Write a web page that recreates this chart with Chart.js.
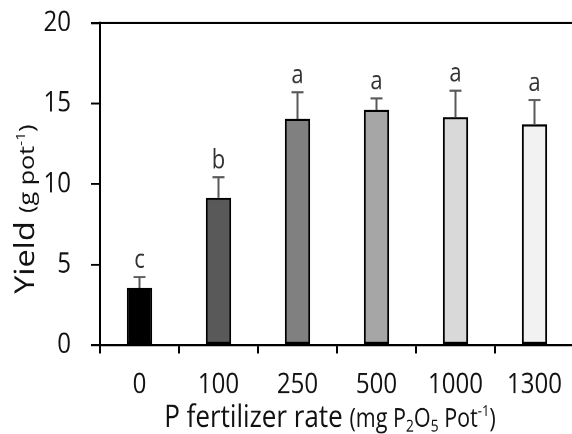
<!DOCTYPE html>
<html><head><meta charset="utf-8">
<script src="https://cdn.jsdelivr.net/npm/chart.js"></script>
<style>
html,body{margin:0;padding:0;overflow:hidden;background:#fff;width:572px;height:434px}
#c{position:absolute;left:0;top:0;transform-origin:0 0;transform:scaleY(1.19890)}
</style></head><body>
<canvas id="c" width="574" height="362" style="width:574px;height:362px"></canvas>
<script>
const categories = ['0', '100', '250', '500', '1000', '1300'];
const yieldMeans = [3.56, 9.15, 14.06, 14.62, 14.16, 13.71];
const yieldErrors = [0.66, 1.27, 1.64, 0.70, 1.64, 1.51];
const groupLetters = ['c', 'b', 'a', 'a', 'a', 'a'];
const yTickValues = [0, 5, 10, 15, 20];
const barColors = ['#000000', '#595959', '#808080', '#a6a6a6', '#d9d9d9', '#f2f2f2'];

const FONT = '"Open Sans", "Noto Sans", sans-serif';

const decorPlugin = {
  id: 'decor',
  afterDatasetsDraw(chart) {
    const ctx = chart.ctx;
    const ys = chart.scales.y;
    const meta = chart.getDatasetMeta(0);
    ctx.save();
    meta.data.forEach((bar, i) => {
      const x = bar.x;
      const yTop = ys.getPixelForValue(yieldMeans[i] + yieldErrors[i]);
      ctx.strokeStyle = '#595959';
      ctx.lineWidth = 2;
      ctx.beginPath();
      ctx.moveTo(x, bar.y);
      ctx.lineTo(x, yTop);
      ctx.stroke();
      ctx.lineWidth = 1.7;
      ctx.beginPath();
      ctx.moveTo(x - 6, yTop);
      ctx.lineTo(x + 6, yTop);
      ctx.stroke();
      ctx.fillStyle = '#333333';
      ctx.font = '22px ' + FONT;
      ctx.textAlign = 'center';
      ctx.textBaseline = 'alphabetic';
      ctx.fillText(groupLetters[i], x, yTop - 7.5);
    });
    ctx.restore();
  },
  afterDraw(chart) {
    const ctx = chart.ctx;
    const a = chart.chartArea;
    ctx.save();
    ctx.strokeStyle = '#000';
    ctx.lineWidth = 1.7;
    ctx.beginPath();
    ctx.moveTo(a.left, a.top);
    ctx.lineTo(a.right + 2, a.top);
    ctx.stroke();

    ctx.fillStyle = '#111';
    ctx.textBaseline = 'alphabetic';
    ctx.textAlign = 'left';
    function runs(parts, measureOnly, x0, y0) {
      let x = x0;
      parts.forEach(p => {
        ctx.font = p.size + 'px ' + FONT;
        const w = ctx.measureText(p.t).width;
        if (!measureOnly) ctx.fillText(p.t, x, y0 + (p.dy || 0));
        x += w;
      });
      return x - x0;
    }
    const xParts = [
      {t: 'P fertilizer rate ', size: 26},
      {t: '(mg P', size: 21.5},
      {t: '2', size: 14, dy: 4},
      {t: 'O', size: 21.5},
      {t: '5', size: 14, dy: 4},
      {t: ' Pot', size: 21.5},
      {t: '-1', size: 13, dy: -9},
      {t: ')', size: 21.5}
    ];
    const wx = runs(xParts, true, 0, 0);
    runs(xParts, false, 330 - wx / 2, 356);

    const yParts = [
      {t: 'Yield ', size: 27},
      {t: '(g pot', size: 21},
      {t: '-1', size: 13, dy: -9},
      {t: ')', size: 21}
    ];
    ctx.translate(34, 174.4);
    ctx.rotate(-Math.PI / 2);
    const wy = runs(yParts, true, 0, 0);
    runs(yParts, false, -wy / 2, 0);
    ctx.restore();
  }
};

new Chart(document.getElementById('c'), {
  type: 'bar',
  data: {
    labels: categories,
    datasets: [{
      data: yieldMeans,
      backgroundColor: barColors,
      borderColor: '#000',
      borderWidth: 2,
      borderSkipped: false,
      categoryPercentage: 1,
      barPercentage: 0.32
    }]
  },
  options: {
    responsive: false,
    devicePixelRatio: 2,
    animation: false,
    layout: {padding: {top: 19.2, left: 0, right: 0, bottom: 0}},
    plugins: {legend: {display: false}, tooltip: {enabled: false}, title: {display: false}},
    scales: {
      x: {
        afterFit(s) { s.height = 74.2; s.paddingLeft = 0; s.paddingRight = 0; },
        grid: {display: true, drawOnChartArea: false, drawTicks: true, tickLength: 7, color: '#000', lineWidth: 2, offset: true},
        border: {display: true, color: '#000', width: 1.7},
        ticks: {color: '#111', font: {family: FONT, size: 24}, padding: 12, maxRotation: 0, autoSkip: false}
      },
      y: {
        min: 0, max: 20,
        afterFit(s) { s.width = 100; s.paddingTop = 0; s.paddingBottom = 0; },
        afterBuildTicks(s) { s.ticks = yTickValues.map(v => ({value: v})); },
        grid: {display: true, drawOnChartArea: false, drawTicks: true, tickLength: 9, color: '#000', lineWidth: 1.7},
        border: {display: true, color: '#000', width: 2},
        ticks: {color: '#111', font: {family: FONT, size: 24}, padding: 20}
      }
    }
  },
  plugins: [decorPlugin]
});
</script>
</body></html>
